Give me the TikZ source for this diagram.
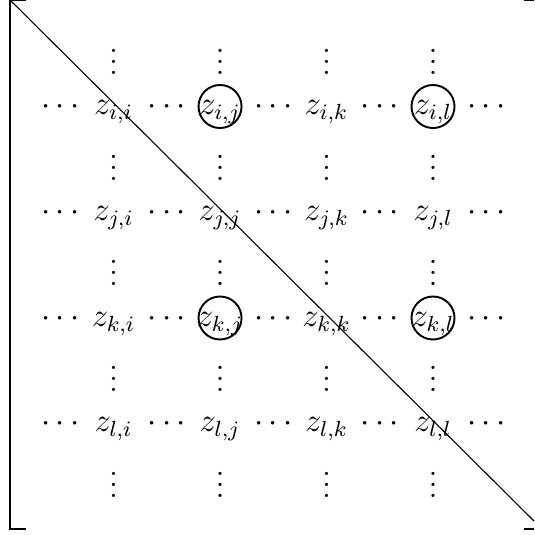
\documentclass[12pt,tikz,border=0pt]{standalone}
\usetikzlibrary{matrix}

\tikzset{
    entry/.style={anchor=base, inner sep=0pt, text height=6pt, text depth=0pt, minimum width=19.38pt},
    ring/.style={line width=0.7pt},
    bracket/.style={line width=0.45pt},
}

\begin{document}
\begin{tikzpicture}[x=0.364pt, y=-0.364pt]
    % Page frame
    \useasboundingbox (0,0) rectangle (534,535);

    % Matrix entries
    \matrix (m) [matrix of math nodes, nodes=entry, inner sep=0pt, column sep=0pt, row sep=8.73pt, matrix anchor=m-6-8.center] at (433,318) {
               & \vdots  &        & \vdots  &        & \vdots  &        & \vdots  &        \\
        \cdots & z_{i,i} & \cdots & z_{i,j} & \cdots & z_{i,k} & \cdots & z_{i,l} & \cdots \\[9.03pt]
               & \vdots  &        & \vdots  &        & \vdots  &        & \vdots  &        \\
        \cdots & z_{j,i} & \cdots & z_{j,j} & \cdots & z_{j,k} & \cdots & z_{j,l} & \cdots \\[9.03pt]
               & \vdots  &        & \vdots  &        & \vdots  &        & \vdots  &        \\
        \cdots & z_{k,i} & \cdots & z_{k,j} & \cdots & z_{k,k} & \cdots & z_{k,l} & \cdots \\[9.03pt]
               & \vdots  &        & \vdots  &        & \vdots  &        & \vdots  &        \\
        \cdots & z_{l,i} & \cdots & z_{l,j} & \cdots & z_{l,k} & \cdots & z_{l,l} & \cdots \\[9.03pt]
               & \vdots  &        & \vdots  &        & \vdots  &        & \vdots  &        \\
    };

    % Circled entries
    \draw [ring] (m-2-4.center) circle [radius=7.83pt];
    \draw [ring] (m-2-8.center) circle [radius=7.83pt];
    \draw [ring] (m-6-4.center) circle [radius=7.83pt];
    \draw [ring] (m-6-8.center) circle [radius=7.83pt];

    % Brackets
    \coordinate (tl) at (10,0.5);
    \coordinate (bl) at (10,529);
    \coordinate (tr) at (534,0.5);
    \coordinate (br) at (534,529);
    \draw [bracket] (tl) ++(16,0) -- (tl) -- (bl) -- ++(16,0);
    \draw [bracket] (tr) ++(-10,0) -- (tr);
    \draw [bracket] (br) ++(-10,0) -- (br);

    % Diagonal
    \coordinate (diagstart) at (10,0);
    \coordinate (diagend) at (534,521);
    \draw [thin] (diagstart) -- (diagend);
\end{tikzpicture}
\end{document}
